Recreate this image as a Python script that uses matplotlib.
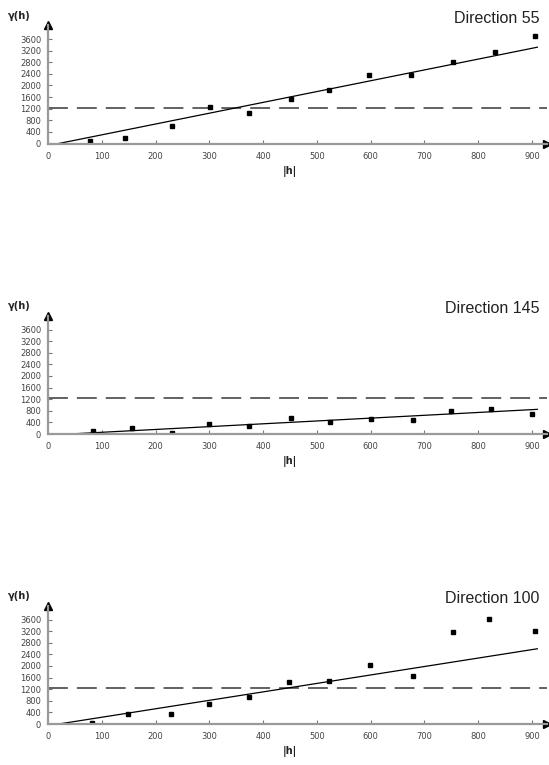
import numpy as np
import matplotlib.pyplot as plt

# lag distances |h| and semivariance for each direction
dir55_h = [78, 143, 230, 302, 374, 451, 522, 597, 675, 753, 831, 905]
dir55_g = [80, 194, 594, 1250, 1051, 1543, 1829, 2366, 2366, 2823, 3143, 3700]
dir145_h = [84, 156, 230, 300, 374, 452, 524, 600, 678, 749, 823, 900]
dir145_g = [114, 217, 46, 331, 286, 560, 400, 503, 480, 800, 846, 674]
dir100_h = [82, 149, 228, 300, 373, 448, 523, 599, 679, 753, 820, 905]
dir100_g = [24, 355, 355, 675, 947, 1445, 1468, 2037, 1658, 3162, 3635, 3210]

# fitted model line end points
fit55_h, fit55_g = [20, 910], [0, 3320]
fit145_h, fit145_g = [40, 910], [0, 850]
fit100_h, fit100_g = [20, 910], [0, 2594]

sill = 1230
titles = ["Direction 55", "Direction 145", "Direction 100"]
xticks = list(range(0, 1000, 100))
yticks = list(range(0, 4000, 400))

W, H = 549, 765
fig = plt.figure(figsize=(W / 100, H / 100), dpi=100)

panels = [(dir55_h, dir55_g, fit55_h, fit55_g, 143.5),
          (dir145_h, dir145_g, fit145_h, fit145_g, 434),
          (dir100_h, dir100_g, fit100_h, fit100_g, 724)]

left_px, right_px, height_px = 48, 547, 118.5
for i, (h, g, fh, fg, base) in enumerate(panels):
    ax = fig.add_axes([left_px / W, 1 - base / H, (right_px - left_px) / W, height_px / H])
    ax.set_xlim(0, 928)
    ax.set_ylim(0, 4086)
    for s in ["top", "right"]:
        ax.spines[s].set_visible(False)
    for s in ["left", "bottom"]:
        ax.spines[s].set_color("#9a9a9a")
        ax.spines[s].set_linewidth(1.6)
    ax.set_xticks(xticks)
    ax.set_yticks(yticks)
    ax.tick_params(direction="in", length=3, width=0.8, color="#777777",
                   labelsize=6, labelcolor="#444444")
    ax.tick_params(axis="x", pad=6)
    ax.tick_params(axis="y", pad=5)

    ax.axhline(sill, color="#555555", lw=1.3, dashes=(11, 5))
    ax.plot(fh, fg, color="black", lw=0.9)
    ax.plot(h, g, "s", color="black", ms=2.6)

    ax.plot(0, 1, "^k", ms=6, transform=ax.transAxes, clip_on=False)
    ax.plot(1, 0, ">k", ms=6, transform=ax.transAxes, clip_on=False)

    ax.text(0.985, 1.055, titles[i], transform=ax.transAxes, ha="right", va="center",
            fontsize=11.5, family="Liberation Sans", color="#222222")
    ax.text(-0.058, 1.08, "γ(h)", transform=ax.transAxes, ha="center", va="center",
            fontsize=7, color="#222222", fontweight="bold")
    ax.text(0.485, -0.235, "|h|", transform=ax.transAxes, ha="center", va="center",
            fontsize=7, color="#222222", fontweight="bold")

plt.savefig("out.png", dpi=100)
